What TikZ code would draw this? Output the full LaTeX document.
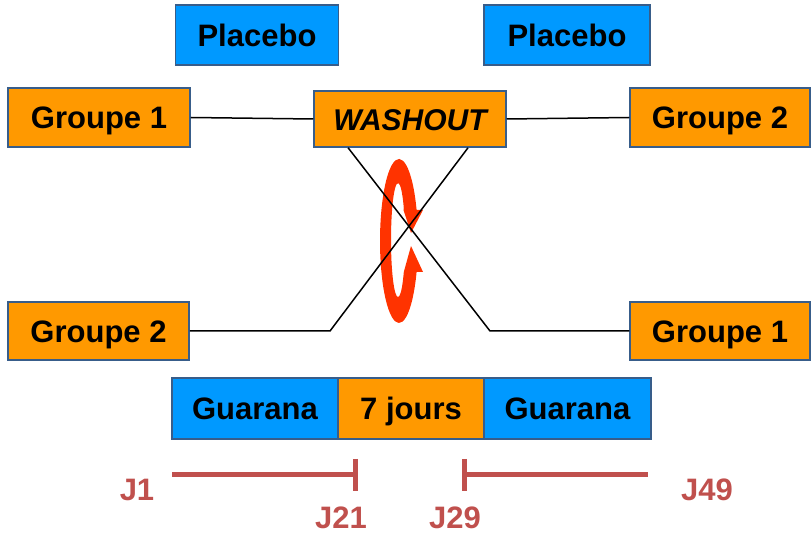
\documentclass[tikz,border=0pt]{standalone}
\usepackage{fontspec}
\setmainfont{Liberation Sans}
\usetikzlibrary{arrows.meta,calc}
\definecolor{orng}{HTML}{FF9900}
\definecolor{blu}{HTML}{0099FF}
\definecolor{bord}{HTML}{385D8A}
\definecolor{jred}{HTML}{C0504D}
\definecolor{loopred}{HTML}{FF3300}
\tikzset{
  box/.style={draw=bord, line width=1.5pt, inner sep=0pt, text height=22.5pt, text depth=0pt,
    font=\fontsize{31}{36}\selectfont\bfseries},
  obox/.style={box, fill=orng},
  bbox/.style={box, fill=blu},
  conn/.style={black, line width=1.5pt},
  tline/.style={jred, line width=5pt},
  jlab/.style={text=jred, font=\fontsize{31}{36}\selectfont\bfseries, inner sep=0pt, text height=22.5pt, text depth=0pt},
  swirl/.style={fill=loopred, draw=none}
}
\begin{document}
\begin{tikzpicture}[x=1pt,y=-1pt]
\useasboundingbox (0,0) rectangle (812,534);
% top boxes
\node[bbox, minimum width=163pt, minimum height=60pt] (pl1) at (257,35) {Placebo};
\node[bbox, minimum width=166pt, minimum height=60pt] (pl2) at (567,35) {Placebo};
\node[obox, minimum width=182pt, minimum height=59pt] (g1t) at (99,117.5) {Groupe 1};
\node[obox, minimum width=192pt, minimum height=56pt, font=\fontsize{30}{36}\selectfont\bfseries\itshape] (wash) at (410,119) {WASHOUT};
\node[obox, minimum width=180pt, minimum height=59pt] (g2t) at (720,117.5) {Groupe 2};
\node[obox, minimum width=181pt, minimum height=58pt] (g2b) at (98.5,331) {Groupe 2};
\node[obox, minimum width=180pt, minimum height=58pt] (g1b) at (720,331) {Groupe 1};
% bottom bar
\node[bbox, minimum width=166pt, minimum height=61pt] (gu1) at (255,408.5) {Guarana};
\node[obox, minimum width=146pt, minimum height=61pt] (jours) at (411,408.5) {7 jours};
\node[bbox, minimum width=167pt, minimum height=61pt] (gu2) at (567.5,408.5) {Guarana};
% red loop (filled crescent ring with two arrowheads)
\fill[swirl] (416.6,210)
  arc[start angle=-22.2, end angle=-337.8, x radius=19, y radius=82]
  -- (423,272) -- (411,246) -- (403.8,272)
  arc[start angle=34.1, end angle=325.9, x radius=7, y radius=57]
  -- (403.5,210) -- (411,233) -- (423,210) -- cycle;
% connectors
\coordinate (ka) at (490,331);
\coordinate (kb) at (330,331);
\draw[conn] (g1t.east) -- (wash.west);
\draw[conn] (wash.east) -- (g2t.west);
\draw[conn] ($(wash.south west)!0.18!(wash.south east)$) -- (ka) -- (g1b.west);
\draw[conn] ($(wash.south west)!0.80!(wash.south east)$) -- (kb) -- (g2b.east);
% timeline
\coordinate (t1s) at (172,475);
\coordinate (t1e) at (355,475);
\coordinate (t2s) at (464,475);
\coordinate (t2e) at (648,475);
\draw[tline] (t1s) -- (t1e);
\draw[tline] ($(t1e)+(0,-16)$) -- ($(t1e)+(0,16)$);
\draw[tline] (t2s) -- (t2e);
\draw[tline] ($(t2s)+(0,-16)$) -- ($(t2s)+(0,16)$);
\node[jlab] (j1) at (137,489) {J1};
\node[jlab] (j21) at (341,517.5) {J21};
\node[jlab] (j29) at (455,517.5) {J29};
\node[jlab] (j49) at (707,489) {J49};
\end{tikzpicture}
\end{document}
